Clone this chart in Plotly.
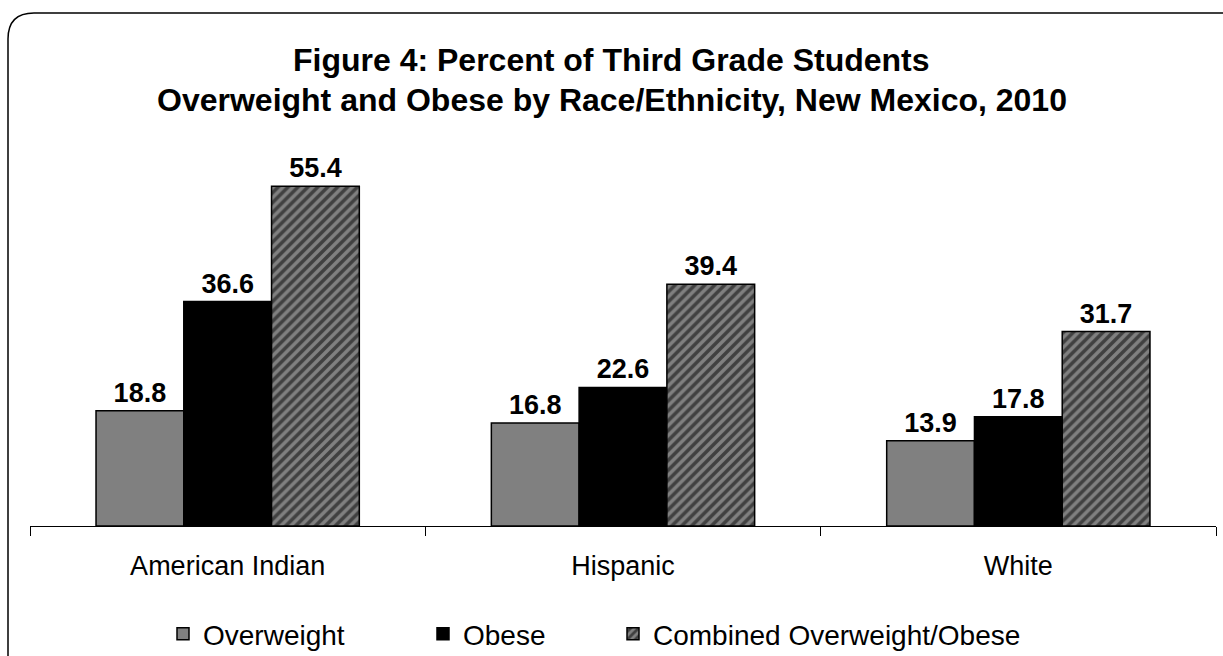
import plotly.graph_objects as go

categories = ["American Indian", "Hispanic", "White"]
overweight = [18.8, 16.8, 13.9]
obese = [36.6, 22.6, 17.8]
combined = [55.4, 39.4, 31.7]
series_names = ["Overweight", "Obese", "Combined Overweight/Obese"]
title_lines = ["Figure 4: Percent of Third Grade Students",
               "Overweight and Obese by Race/Ethnicity, New Mexico, 2010"]

W, H = 1223, 656
L, R, T, B = 30, 7, 158, 130
PW, PH = W - L - R, H - T - B
FONT = "Liberation Sans, Arial, sans-serif"

def px2x(px):
    return (px - L) / PW

def px2y(py):
    return (H - B - py) / PH

fig = go.Figure()
lab_font = dict(family=FONT, size=27, color="black")

fig.add_trace(go.Bar(
    x=categories, y=overweight, name=series_names[0], legend="legend",
    marker=dict(color="#808080", line=dict(color="black", width=1.5)),
    text=[f"<b>{v:.1f}</b>" for v in overweight], textposition="outside",
    textfont=lab_font, cliponaxis=False,
))
fig.add_trace(go.Bar(
    x=categories, y=obese, name=series_names[1], legend="legend2",
    marker=dict(color="black", line=dict(color="black", width=1.5)),
    text=[f"<b>{v:.1f}</b>" for v in obese], textposition="outside",
    textfont=lab_font, cliponaxis=False,
))
fig.add_trace(go.Bar(
    x=categories, y=combined, name=series_names[2], legend="legend3",
    marker=dict(color="#808080", line=dict(color="black", width=1.5),
                pattern=dict(shape="/", fgcolor="black", bgcolor="#808080",
                             size=7, solidity=0.5, fillmode="overlay")),
    text=[f"<b>{v:.1f}</b>" for v in combined], textposition="outside",
    textfont=lab_font, cliponaxis=False,
))

# rounded border
x0, y0, r = 8, 13, 26
xr, yb = 1260, 700
path = (f"M {px2x(x0)},{px2y(yb)} L {px2x(x0)},{px2y(y0 + r)} "
        f"Q {px2x(x0)},{px2y(y0)} {px2x(x0 + r)},{px2y(y0)} "
        f"L {px2x(xr)},{px2y(y0)}")
fig.add_shape(type="path", path=path, xref="paper", yref="paper",
              line=dict(color="black", width=1.5))

for line, py in zip(title_lines, [60, 100]):
    fig.add_annotation(text=f"<b>{line}</b>", x=(W / 2 - L) / PW,
                       xref="paper", y=px2y(py), yref="paper", showarrow=False,
                       xanchor="center", yanchor="middle",
                       font=dict(family=FONT, size=32, color="black"))

leg_common = dict(orientation="h", yanchor="middle", xanchor="left",
                  xref="container", yref="container",
                  font=dict(family=FONT, size=28, color="black"),
                  bgcolor="rgba(0,0,0,0)")
ly = (H - 634) / H
fig.update_layout(
    width=W, height=H,
    margin=dict(l=L, r=R, t=T, b=B, pad=0, autoexpand=False),
    paper_bgcolor="white", plot_bgcolor="white",
    barmode="group", bargap=0.334, bargroupgap=0,
    font=dict(family=FONT, color="black"),
    legend=dict(x=163 / W, y=ly, **leg_common),
    legend2=dict(x=423 / W, y=ly, **leg_common),
    legend3=dict(x=613 / W, y=ly, **leg_common),
    xaxis=dict(showline=True, linecolor="black", linewidth=1, ticks="outside",
               ticklen=9, tickcolor="black", tickson="boundaries",
               tickfont=dict(family=FONT, size=27, color="black"),
               ticklabelstandoff=16, showgrid=False, zeroline=False,
               automargin=False),
    yaxis=dict(range=[0, 60], visible=False, showgrid=False, zeroline=False),
    showlegend=True,
)

fig.write_html("out.html")
